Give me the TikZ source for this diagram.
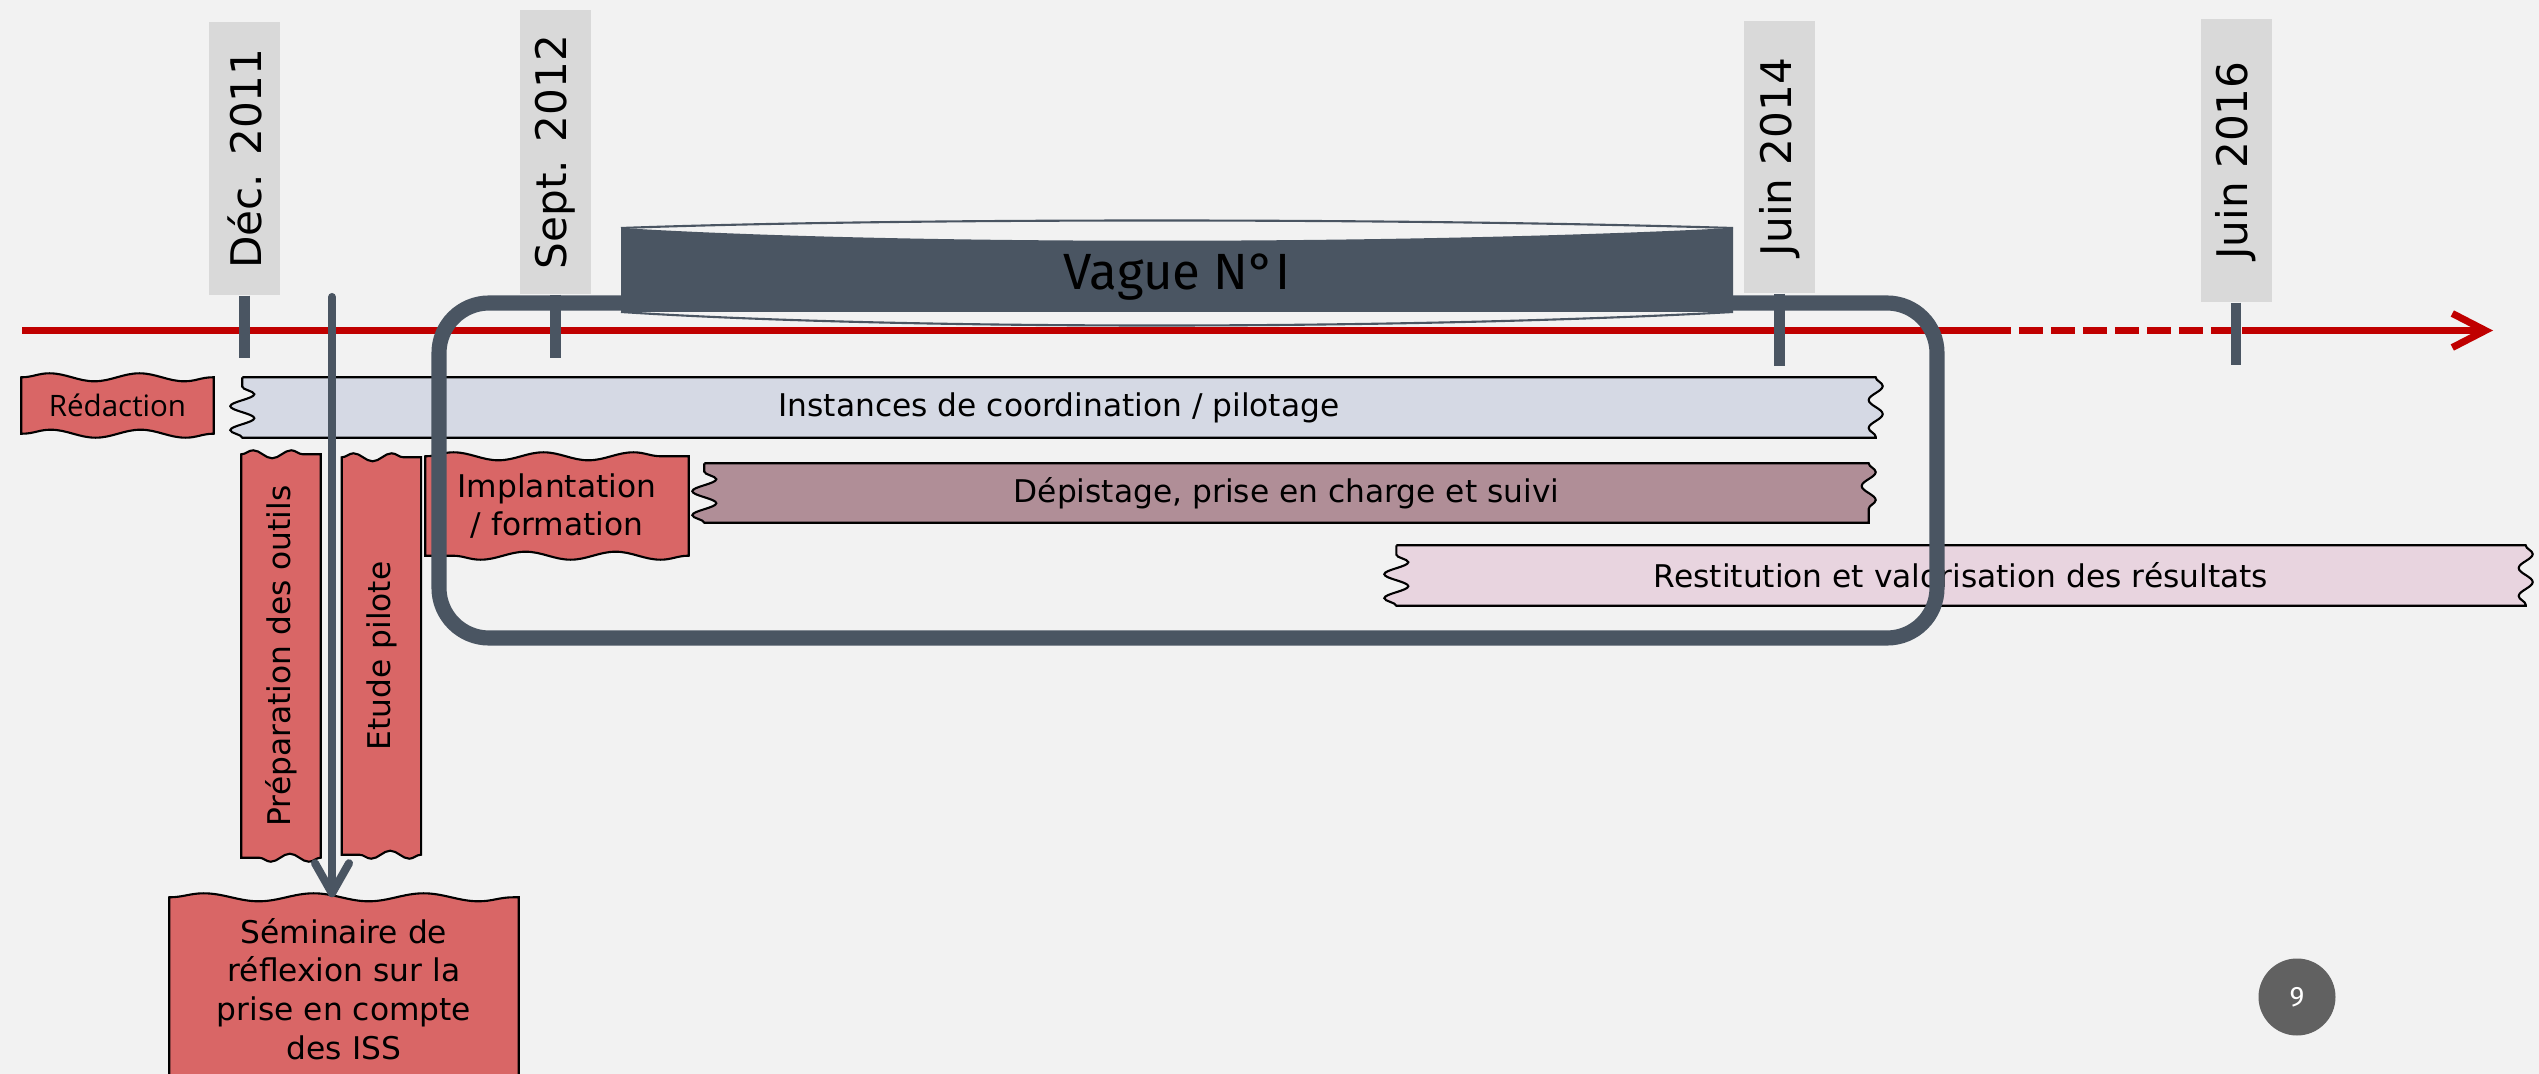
\documentclass[tikz,border=0pt]{standalone}
\usepackage{fontspec}
\setmainfont{DejaVu Sans}
\newfontfamily\redacfont{Open Sans}
\newfontfamily\vaguefont{Fira Sans}
\usepackage{graphicx}
\usetikzlibrary{arrows.meta,positioning,decorations.pathmorphing}
\definecolor{pagebg}{HTML}{F2F2F2}
\definecolor{timered}{HTML}{C00000}
\definecolor{slate}{HTML}{4A5562}
\definecolor{taggray}{HTML}{D9D9D9}
\definecolor{taskred}{HTML}{D96666}
\definecolor{coordcol}{HTML}{D5D9E4}
\definecolor{depcol}{HTML}{B08E97}
\definecolor{restcol}{HTML}{E8D4DF}
\definecolor{pagecirc}{HTML}{616161}
\pgfdeclarelayer{back}
\pgfsetlayers{back,main}
% tape with torn ends, drawn behind the node text
\newcommand\tapebar[2]{%
  \begin{pgfonlayer}{back}
    \filldraw[fill=#2,draw=black,line width=0.6pt]
      (#1.north west) -- (#1.north east)
      decorate[decoration={snake,amplitude=0.7mm,segment length=2.8mm}]{-- (#1.south east)}
      -- (#1.south west)
      decorate[decoration={snake,amplitude=1.2mm,segment length=2.4mm}]{-- (#1.north west)};
  \end{pgfonlayer}}
% red task with wobbly top and bottom
\newcommand\ragbox[2][9mm]{%
  \begin{pgfonlayer}{back}
    \filldraw[fill=taskred,draw=black,line width=0.6pt]
      (#2.north west) decorate[decoration={snake,amplitude=0.4mm,segment length=#1}]{-- (#2.north east)}
      -- (#2.south east)
      decorate[decoration={snake,amplitude=0.4mm,segment length=#1}]{-- (#2.south west)} -- cycle;
  \end{pgfonlayer}}

\begin{document}
\begin{tikzpicture}[
    datetag/.style={fill=taggray,inner sep=0pt,minimum width=0.71cm,font=\fontsize{12}{14}\selectfont},
    tick/.style={slate,line width=3.1pt},
    tl/.style={timered,line width=2pt},
    bar/.style={inner sep=0pt,font=\fontsize{8.9}{11}\selectfont},
    task/.style={inner sep=0pt,align=center,font=\fontsize{8.9}{11}\selectfont},
    frame/.style={slate,line width=4.3pt,rounded corners=0.5cm},
    flow/.style={slate,line width=2.3pt,line cap=round,-{Straight Barb[length=3mm,width=3.4mm,round]}}]
  \useasboundingbox (0,0) rectangle (25.39,-10.74);
  \begin{pgfonlayer}{back}
    \fill[pagebg] (0,0) rectangle (25.39,-10.74);
  \end{pgfonlayer}
  % time axis
  \coordinate (t0) at (0.22,-3.305);
  \coordinate (t1) at (19.87,-3.305);
  \coordinate (t2) at (22.42,-3.305);
  \coordinate (t3) at (24.93,-3.305);
  \draw[tl] (t0) -- (t1);
  \draw[tl,dash pattern=on 6.8pt off 2.3pt] (t1) -- (t2);
  \draw[tl,-{Straight Barb[length=3.3mm,width=3.4mm]}] (t2) -- (t3);
  % dates
  \node[datetag,minimum height=2.73cm] (dec) at (2.445,-1.585) {\rotatebox{90}{Déc. 2011}};
  \node[datetag,minimum height=2.84cm] (sept) at (5.555,-1.52) {\rotatebox{90}{Sept. 2012}};
  \node[datetag,minimum height=2.72cm] (j14) at (17.795,-1.57) {\rotatebox{90}{Juin 2014}};
  \node[datetag,minimum height=2.83cm] (j16) at (22.36,-1.605) {\rotatebox{90}{Juin 2016}};
  \foreach \d/\l in {dec/0.62,sept/0.63,j14/0.72,j16/0.62}
    \draw[tick] (\d.south) -- ++(0,-\l);
  % tasks
  \node[task,minimum width=1.91cm,minimum height=0.55cm,font=\redacfont\fontsize{8.4}{10}\selectfont] (redac) at (1.175,-4.055) {Rédaction};
  \node[bar,minimum width=16.32cm,minimum height=0.59cm] (coord) at (10.59,-4.075) {Instances de coordination / pilotage};
  \node[task,minimum width=2.62cm,minimum height=0.98cm] (impl) at (5.57,-5.06) {Implantation\\/ formation};
  \node[bar,minimum width=11.63cm,minimum height=0.58cm] (dep) at (12.865,-4.93) {Dépistage, prise en charge et suivi};
  \node[bar,minimum width=11.28cm,minimum height=0.59cm] (rest) at (19.61,-5.755) {Restitution et valorisation des résultats};
  \node[task,minimum width=0.78cm,minimum height=4.02cm] (prep) at (2.81,-6.56) {\rotatebox{90}{Préparation des outils}};
  \node[task,minimum width=0.78cm,minimum height=3.96cm,right=0.21cm of prep] (etude) {\rotatebox{90}{Etude pilote}};
  \node[task,minimum width=3.48cm,minimum height=1.82cm] (sem) at (3.44,-9.89) {Séminaire de\\réflexion sur la\\prise en compte\\des ISS};
  \ragbox{redac}
  \tapebar{coord}{coordcol}
  \ragbox{impl}
  \tapebar{dep}{depcol}
  \tapebar{rest}{restcol}
  \ragbox[3.8mm]{prep}
  \ragbox[3.8mm]{etude}
  \ragbox[11mm]{sem}
  % wave 1
  \draw[frame] (4.39,-3.03) rectangle (19.37,-6.38);
  \fill[slate] (6.21,-2.28) .. controls (9,-2.45) and (14,-2.45) .. (17.33,-2.28)
    -- (17.33,-3.12) -- (6.21,-3.12) -- cycle;
  \draw[slate,line width=0.6pt] (6.21,-2.28) .. controls (9,-2.18) and (14,-2.18) .. (17.33,-2.28);
  \draw[slate,line width=0.6pt] (6.21,-3.12) .. controls (9,-3.3) and (14,-3.3) .. (17.33,-3.12);
  \node[font=\vaguefont\fontsize{14.5}{16}\selectfont,anchor=base] (vague) at (11.77,-2.90) {Vague N°I};
  % arrow to the seminar
  \coordinate (semtop) at (3.32,-2.97);
  \draw[flow] (semtop) -- (semtop |- sem.north);
  \node[circle,fill=pagecirc,minimum size=0.77cm,inner sep=0pt,text=white,font=\vaguefont\fontsize{8}{9}\selectfont] (pg) at (22.97,-9.97) {9};
\end{tikzpicture}
\end{document}
